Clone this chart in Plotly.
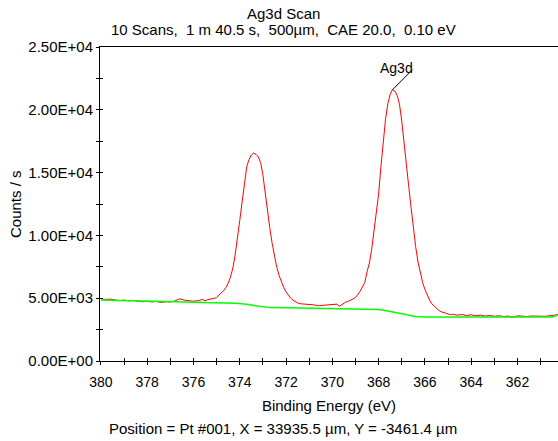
import plotly.graph_objects as go

# ---- data ----
spectrum_be = [380.0, 379.8, 379.6, 379.4, 379.2, 379.0, 378.8, 378.6, 378.4, 378.2, 378.0, 377.8, 377.6, 377.4,
               377.2, 377.0, 376.8, 376.6, 376.4, 376.2, 376.0, 375.8, 375.6, 375.5, 375.4, 375.2, 375.0, 374.9,
               374.8, 374.7, 374.6, 374.5, 374.4, 374.3, 374.2, 374.1, 374.0, 373.9, 373.8, 373.7, 373.6, 373.5,
               373.4, 373.3, 373.2, 373.1, 373.0, 372.9, 372.8, 372.7, 372.6, 372.5, 372.4, 372.3, 372.2, 372.1,
               372.0, 371.9, 371.8, 371.7, 371.6, 371.5, 371.4, 371.2, 371.0, 370.8, 370.6, 370.4, 370.2, 370.0,
               369.9, 369.8, 369.7, 369.6, 369.5, 369.4, 369.3, 369.2, 369.1, 369.0, 368.9, 368.8, 368.7, 368.6,
               368.5, 368.4, 368.3, 368.2, 368.1, 368.0, 367.9, 367.8, 367.7, 367.6, 367.5, 367.4, 367.3, 367.2,
               367.1, 367.0, 366.9, 366.8, 366.7, 366.6, 366.5, 366.4, 366.3, 366.2, 366.1, 366.0, 365.9, 365.8,
               365.7, 365.6, 365.5, 365.4, 365.3, 365.2, 365.1, 365.0, 364.9, 364.8, 364.6, 364.4, 364.2, 364.0,
               363.8, 363.6, 363.4, 363.2, 363.0, 362.8, 362.6, 362.4, 362.2, 362.0, 361.8, 361.6, 361.4, 361.2,
               361.0, 360.8, 360.6, 360.4, 360.2]
spectrum_counts = [4950, 4900, 4930, 4870, 4800, 4850, 4780, 4830, 4790, 4720, 4760, 4700, 4740, 4660,
                   4720, 4700, 4780, 4950, 4850, 4820, 4760, 4800, 4900, 4790, 4880, 4950, 5050, 5250,
                   5420, 5600, 5850, 6200, 6700, 7400, 8450, 9700, 11200, 12650, 14300, 15450, 16050, 16400,
                   16560, 16450, 16250, 15800, 14800, 13300, 11900, 10550, 9350, 8300, 7450, 6800, 6250, 5850,
                   5500, 5250, 5000, 4850, 4700, 4620, 4560, 4520, 4540, 4470, 4400, 4420, 4480, 4490,
                   4470, 4530, 4350, 4480, 4600, 4720, 4760, 4840, 4950, 5050, 5300, 5550, 5900, 6250,
                   7100, 7800, 8900, 10250, 11600, 13300, 15500, 17400, 19300, 20500, 21250, 21600, 21500, 21150,
                   20450, 19100, 17200, 15500, 13900, 12250, 10600, 9100, 7900, 7000, 6250, 5700, 5250, 4850,
                   4550, 4350, 4150, 4030, 3920, 3850, 3780, 3760, 3690, 3720, 3650, 3700, 3620, 3680,
                   3600, 3650, 3580, 3620, 3560, 3600, 3540, 3580, 3480, 3600, 3560, 3540, 3580, 3550,
                   3570, 3560, 3580, 3650, 3750]

background_be = [380.0, 379.0, 378.0, 377.0, 376.0, 375.0, 374.6, 374.2, 373.8, 373.4, 373.0, 372.7, 372.0,
                 371.0, 370.0, 369.0, 368.4, 368.0, 367.6, 367.2, 366.8, 366.4, 366.0, 364.0, 362.0, 361.0,
                 360.5, 360.2]
background_counts = [4860, 4820, 4740, 4700, 4680, 4660, 4650, 4600, 4530, 4440, 4320, 4250, 4240,
                     4220, 4200, 4170, 4160, 4100, 3980, 3820, 3660, 3540, 3500, 3500, 3490, 3500,
                     3510, 3720]

x_tick_values = [380, 378, 376, 374, 372, 370, 368, 366, 364, 362]
x_tick_labels = ["380", "378", "376", "374", "372", "370", "368", "366", "364", "362"]
y_tick_values = [0, 5000, 10000, 15000, 20000, 25000]
y_tick_labels = ["0.00E+00", "5.00E+03", "1.00E+04", "1.50E+04", "2.00E+04", "2.50E+04"]

peak_label = "Ag3d"
title_text = "Ag3d Scan"
subtitle_text = "10 Scans,  1 m 40.5 s,  500µm,  CAE 20.0,  0.10 eV"
x_title = "Binding Energy (eV)"
y_title = "Counts / s"
footer_text = "Position = Pt #001, X = 33935.5 µm, Y = -3461.4 µm"

FONT = "Arial, 'Liberation Sans', sans-serif"
W, H = 558, 441
ML, MR, MT, MB = 100, 0, 47, 80

fig = go.Figure()
fig.add_trace(go.Scatter(x=spectrum_be, y=spectrum_counts, mode="lines",
                         line=dict(color="#ff0000", width=1), showlegend=False, hoverinfo="skip"))
fig.add_trace(go.Scatter(x=background_be, y=background_counts, mode="lines", xaxis="x2", yaxis="y2",
                         line=dict(color="#00ff00", width=1.5), showlegend=False, hoverinfo="skip"))

# peak annotation (leader line + label) anchored at the maximum of the data
i_max = max(range(len(spectrum_counts)), key=lambda i: spectrum_counts[i])
px, py = spectrum_be[i_max], spectrum_counts[i_max]

x_range = [380.04, 360.25]
y_range = [0, 25000]

common_axis = dict(showgrid=False, zeroline=False, linecolor="black", linewidth=1,
                   tickcolor="black", tickwidth=1, ticklen=3)

fig.update_layout(
    width=W, height=H,
    margin=dict(l=ML, r=MR, t=MT, b=MB, pad=0),
    paper_bgcolor="white", plot_bgcolor="white",
    font=dict(family=FONT, size=15, color="black"),
    xaxis=dict(range=x_range, tickvals=x_tick_values, ticktext=x_tick_labels, showline=True, mirror=True,
               ticks="outside", minor=dict(dtick=1, tick0=380, ticks="outside", ticklen=3, tickcolor="black"),
               ticklabelstandoff=5,
               title=dict(text=x_title, standoff=11, font=dict(size=15)),
               tickfont=dict(size=14), **common_axis),
    yaxis=dict(range=y_range, tickvals=y_tick_values, ticktext=y_tick_labels, showline=True,
               ticks="outside", minor=dict(dtick=2500, tick0=0, ticks="outside", ticklen=3, tickcolor="black"),
               ticklabelstandoff=0,
               tickfont=dict(size=15), **common_axis),
    xaxis2=dict(overlaying="x", matches="x", anchor="y", side="bottom", range=x_range, showline=False,
                showticklabels=False, showgrid=False, zeroline=False, ticks="inside", ticklen=3,
                tickcolor="black", tickwidth=1, tick0=380, dtick=1),
    yaxis2=dict(overlaying="y", matches="y", anchor="x", side="left", range=y_range, showline=False,
                showticklabels=False, showgrid=False, zeroline=False, ticks="inside", ticklen=3,
                tickcolor="black", tickwidth=1, tick0=0, dtick=2500),
)

fig.add_annotation(x=px, y=py, xref="x", yref="y", text=" ", showarrow=True, arrowhead=0,
                   arrowwidth=1, arrowcolor="black", ax=22, ay=-22, standoff=0, startstandoff=0,
                   font=dict(size=2))
fig.add_annotation(x=px, y=py, xref="x", yref="y", text=peak_label, showarrow=False,
                   xshift=4, yshift=22, font=dict(size=14))

plot_w = W - ML - MR
plot_h = H - MT - MB
def px_to_paper_x(xp):
    return (xp - ML) / plot_w
def px_to_paper_y(yp):
    return (H - MB - yp) / plot_h

fig.add_annotation(x=px_to_paper_x(283), y=px_to_paper_y(13), xref="paper", yref="paper",
                   text=title_text, showarrow=False, xanchor="center", yanchor="middle", font=dict(size=15))
fig.add_annotation(x=px_to_paper_x(283), y=px_to_paper_y(29), xref="paper", yref="paper",
                   text=subtitle_text, showarrow=False, xanchor="center", yanchor="middle", font=dict(size=15))
fig.add_annotation(x=px_to_paper_x(283), y=px_to_paper_y(428), xref="paper", yref="paper",
                   text=footer_text, showarrow=False, xanchor="center", yanchor="middle", font=dict(size=15))
fig.add_annotation(x=px_to_paper_x(15), y=px_to_paper_y(204), xref="paper", yref="paper",
                   text=y_title, showarrow=False, textangle=-90, xanchor="center", yanchor="middle",
                   font=dict(size=15))

fig.write_html("out.html", config={"displayModeBar": False},
               post_script="document.body.style.margin='0px';")
